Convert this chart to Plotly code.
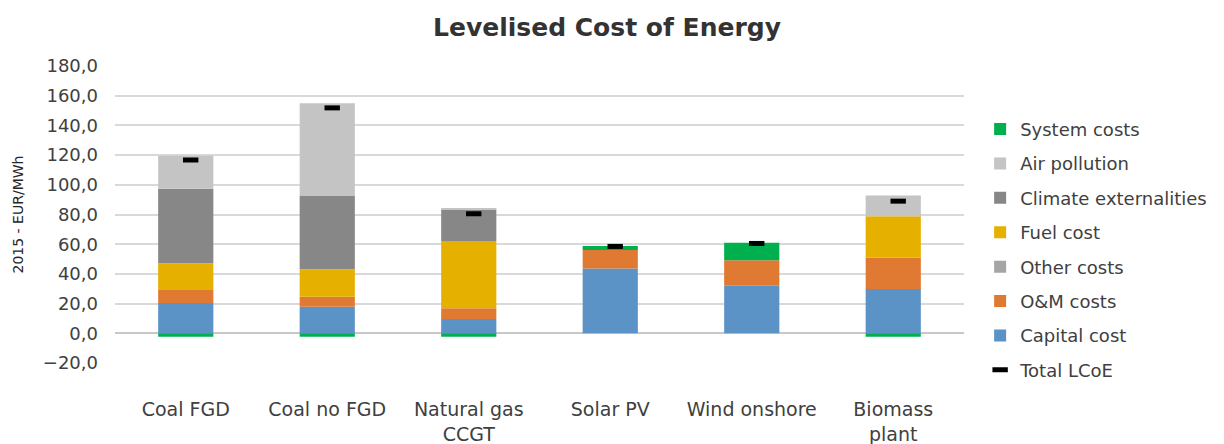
import plotly.graph_objects as go

categories = ["Coal FGD", "Coal no FGD", "Natural gas<br>CCGT", "Solar PV", "Wind onshore", "Biomass<br>plant"]

capital_cost = [20.4, 17.9, 9.6, 43.6, 32.0, 29.8]
om_costs = [8.7, 6.7, 7.2, 12.5, 17.2, 21.0]
other_costs = [0.0, 0.0, 0.0, 0.0, 0.0, 0.0]
fuel_cost = [18.1, 18.6, 45.4, 0.0, 0.0, 28.1]
climate_ext = [50.1, 49.6, 21.2, 0.0, 0.0, 0.0]
air_pollution = [22.3, 62.1, 1.0, 0.0, 0.0, 13.9]
system_costs = [-2.4, -2.4, -2.4, 2.7, 11.8, -2.4]
total_lcoe = [116.7, 151.8, 80.5, 58.5, 60.5, 89.0]

y_tickvals = [-20, 0, 20, 40, 60, 80, 100, 120, 140, 160, 180]
boundary_ticks = [-0.5, 0.5, 1.5, 2.5, 3.5, 4.5, 5.5]

FONT = "DejaVu Sans"

series = [
    ("Capital cost", capital_cost, "#5B93C7", 7),
    ("O&M costs", om_costs, "#E07A33", 6),
    ("Other costs", other_costs, "#A5A5A5", 5),
    ("Fuel cost", fuel_cost, "#E6B000", 4),
    ("Climate externalities", climate_ext, "#878787", 3),
    ("Air pollution", air_pollution, "#C4C4C4", 2),
    ("System costs", system_costs, "#00B04F", 1),
]

fig = go.Figure()
for name, vals, color, rank in series:
    fig.add_trace(go.Bar(
        x=categories, y=vals, name=name,
        marker=dict(color=color, line=dict(width=0)),
        legendrank=rank, legendgroup=name,
        hoverinfo="skip",
    ))

fig.add_trace(go.Scatter(
    x=categories, y=total_lcoe, name="Total LCoE", mode="markers",
    xaxis="x2",
    marker=dict(symbol="line-ew", size=11, color="black",
                line=dict(color="black", width=5)),
    legendrank=8, legendgroup="Total LCoE",
))

fig.update_layout(
    width=1216, height=436,
    barmode="relative",
    bargap=0.61,
    separators=",.",
    paper_bgcolor="white",
    plot_bgcolor="white",
    margin=dict(l=107, r=260, t=58, b=81, autoexpand=False),
    font=dict(family=FONT, color="#404040"),
    title=dict(
        text="<b>Levelised Cost of Energy</b>",
        x=0.4926, xanchor="center", xref="container",
        y=0.956, yanchor="middle", yref="container",
        font=dict(family=FONT, size=25, color="#333333"),
    ),
    showlegend=True,
    legend=dict(
        x=1.019, xanchor="left", y=0.849, yanchor="top",
        traceorder="grouped", tracegroupgap=8,
        font=dict(family=FONT, size=18, color="#404040"),
        itemwidth=30,
        bgcolor="rgba(0,0,0,0)",
    ),
    xaxis2=dict(
        overlaying="x", anchor="y",
        type="category", categoryarray=categories, categoryorder="array",
        range=[-0.5 - 0.035, 5.5 - 0.035],
        visible=False,
    ),
    xaxis3=dict(
        overlaying="x", anchor="free", position=0.1,
        range=[-0.5, 5.5], tickvals=boundary_ticks,
        ticks="outside", ticklen=5, tickwidth=1.5, tickcolor="#BFBFBF",
        showticklabels=False, showgrid=False, zeroline=False, showline=False,
    ),
    annotations=[dict(
        text="2015 - EUR/MWh", textangle=-90,
        xref="paper", yref="paper", x=-0.1143, y=0.5,
        xanchor="center", yanchor="middle", showarrow=False,
        font=dict(family=FONT, size=14, color="#262626"),
    )],
)

fig.update_layout(xaxis=dict(
    showgrid=False, showline=False, zeroline=False,
    ticks="", ticklabelstandoff=33, automargin=False,
    tickfont=dict(family=FONT, size=19, color="#404040"),
))

fig.update_yaxes(
    range=[-20, 180], tickvals=y_tickvals, tickformat=".1f",
    showgrid=True, gridcolor="#D9D9D9", gridwidth=1.5,
    zeroline=True, zerolinecolor="#C8C8C8", zerolinewidth=1.5,
    showline=False, ticks="", automargin=False, ticklabelstandoff=16,
    tickfont=dict(family=FONT, size=18, color="#404040"),
)

fig.write_html("out.html")
